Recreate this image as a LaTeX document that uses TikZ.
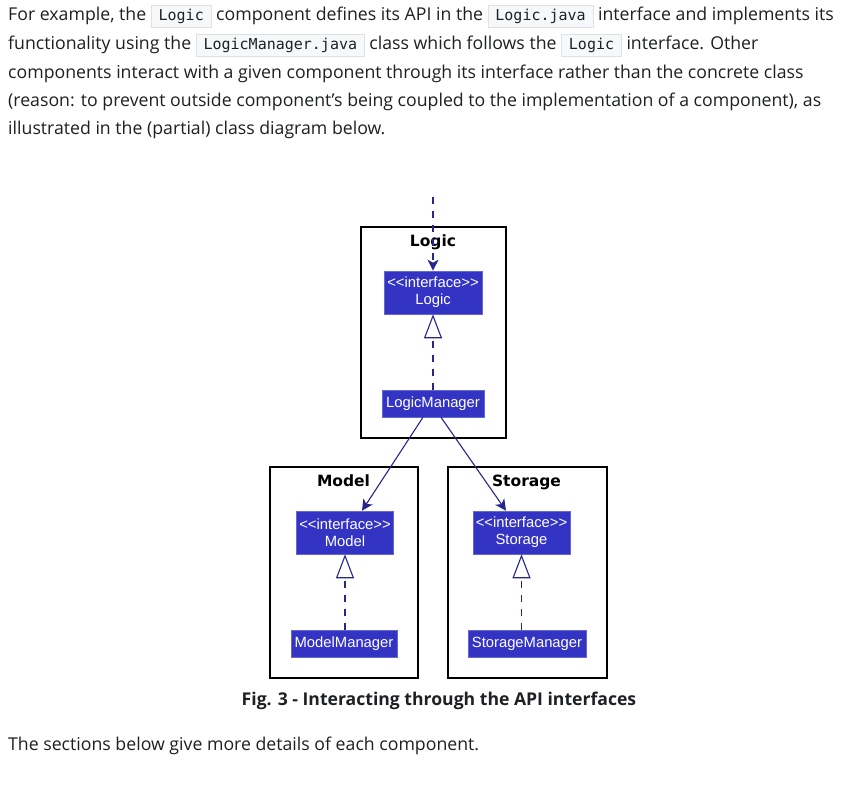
\documentclass[tikz,border=0pt]{standalone}
\usepackage{fontspec}
\setmainfont{Open Sans}
\setsansfont{Liberation Sans}
\setmonofont{DejaVu Sans Mono}
\newfontfamily\umltitlefont{DejaVu Sans}
\usetikzlibrary{arrows.meta,positioning}

\definecolor{umlfill}{RGB}{52,52,196}
\definecolor{umlline}{RGB}{38,38,140}
\definecolor{codebg}{RGB}{247,248,250}
\definecolor{codeframe}{RGB}{222,225,230}
\definecolor{bodytext}{RGB}{30,32,36}

\newcommand{\codeword}[1]{{\setlength{\fboxsep}{3pt}\setlength{\fboxrule}{0.8pt}\fcolorbox{codeframe}{codebg}{\rule[-3pt]{0pt}{15pt}\hspace{4pt}\ttfamily\fontsize{15}{15}\selectfont #1\hspace{4pt}}}}
\newcommand{\stereo}{<\kern0pt<interface>\kern0pt>}

\tikzset{
  bodyline/.style={anchor=base west, inner sep=0pt, text=bodytext, font=\fontsize{17.7}{20}\selectfont},
  pkg/.style={draw=black, line width=1.6pt, minimum height=211pt, inner sep=0pt},
  pkgtitle/.style={anchor=base, inner sep=0pt, font=\umltitlefont\bfseries\fontsize{15.5}{15.5}\selectfont},
  umlbox/.style={fill=umlfill, draw=umlfill!75!white, line width=0.6pt, text=white, align=center, inner sep=0pt, font=\sffamily\fontsize{14.8}{17}\selectfont},
  iface/.style={umlbox, minimum width=97pt, minimum height=43pt},
  impl/.style={umlbox, minimum height=27pt},
  realize/.style={draw=umlline, line width=1.1pt, dash pattern=on 7pt off 7pt, -{Triangle[open, length=24pt, width=18pt, line width=1.1pt]}},
  depend/.style={draw=umlline, line width=1.1pt, -{Stealth[length=11pt, width=11pt, inset=3pt]}}
}

\begin{document}
\begin{tikzpicture}[x=1pt, y=-1pt]
\fill[white] (0,0) rectangle (853,786);
\useasboundingbox (0,0) rectangle (853,786);

\node[bodyline] (line1) at (8,21) {For example, the \codeword{Logic} component defines its API in the \codeword{Logic.java} interface and implements its};
\node[bodyline] (line2) at (8,50) {functionality using the \codeword{LogicManager.java} class which follows the \codeword{Logic} interface. Other};
\node[bodyline] (line3) at (8,79) {components interact with a given component through its interface rather than the concrete class};
\node[bodyline] (line4) at (8,107) {(reason: to prevent outside component’s being coupled to the implementation of a component), as};
\node[bodyline] (line5) at (8,135) {illustrated in the (partial) class diagram below.};

\node[pkg, minimum width=145pt] (logicpkg) at (433.5,332.5) {};
\node[pkg, minimum width=148pt] (modelpkg) at (344,572.5) {};
\node[pkg, minimum width=159pt] (storagepkg) at (527.5,572.5) {};

\node[pkgtitle] (logictitle) at (433,247) {Logic};
\node[pkgtitle] (modeltitle) at (343.5,486) {Model};
\node[pkgtitle] (storagetitle) at (526.5,486) {Storage};

\node[iface, minimum width=98pt] (logicif) at (433,292.5) {\stereo\\Logic};
\node[iface] (modelif) at (345,532.5) {\stereo\\Model};
\node[iface] (storageif) at (521.5,532.5) {\stereo\\Storage};

\node[impl, minimum width=102pt] (logicmgr) at (433,403.5) {LogicManager};
\node[impl, minimum width=106pt] (modelmgr) at (344,643.5) {ModelManager};
\node[impl, minimum width=118pt] (storagemgr) at (527,643.5) {StorageManager};

\coordinate (outside) at (433,197);
\draw[depend, dash pattern=on 7pt off 7pt] (outside) -- (logicif.north);

\draw[realize] (logicmgr.north) -- (logicif.south);
\draw[realize] (modelmgr.north -| modelif.south) -- (modelif.south);
\draw[realize] (storagemgr.north -| storageif.south) -- (storageif.south);

\draw[depend] ([xshift=-10pt]logicmgr.south) -- ([xshift=17pt]modelif.north);
\draw[depend] ([xshift=8pt]logicmgr.south) -- ([xshift=-15.5pt]storageif.north);

\node[anchor=base, inner sep=0pt, text=bodytext, font=\bfseries\fontsize{17.6}{20}\selectfont] (caption) at (439,705) {Fig. 3 - Interacting through the API interfaces};
\node[bodyline] (line6) at (8,750) {The sections below give more details of each component.};
\end{tikzpicture}
\end{document}
